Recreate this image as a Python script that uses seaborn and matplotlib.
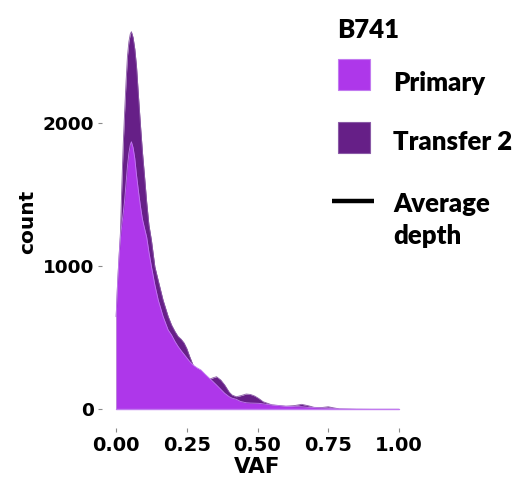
import numpy as np
import pandas as pd
import seaborn as sns
import matplotlib
matplotlib.use("Agg")
import matplotlib.pyplot as plt
from matplotlib.patches import Rectangle
from matplotlib.lines import Line2D

# ---- data ----
vaf = [0.000, 0.005, 0.010, 0.015, 0.020, 0.025, 0.030, 0.035, 0.040, 0.045,
       0.050, 0.054, 0.060, 0.066, 0.072, 0.079, 0.086, 0.093, 0.100, 0.108,
       0.116, 0.125, 0.137, 0.149, 0.166, 0.184, 0.196, 0.208, 0.219, 0.230,
       0.240, 0.250, 0.260, 0.272, 0.285, 0.300, 0.315, 0.330, 0.342, 0.355,
       0.370, 0.384, 0.400, 0.410, 0.425, 0.440, 0.460, 0.475, 0.490, 0.505,
       0.520, 0.550, 0.600, 0.630, 0.656, 0.680, 0.700, 0.725, 0.750, 0.770,
       0.790, 0.850, 0.900, 1.000]
primary = [648, 880, 1060, 1200, 1290, 1370, 1460, 1580, 1700, 1790,
           1850, 1871, 1830, 1755, 1640, 1525, 1420, 1330, 1270, 1205,
           1100, 997, 870, 764, 650, 555, 520, 475, 440, 410,
           385, 360, 335, 310, 292, 275, 245, 217, 195, 170,
           140, 112, 88, 78, 70, 55, 46, 44, 43, 42,
           38, 30, 21, 19, 18, 14, 12, 9, 7, 4,
           2, 0.5, 0, 0]
transfer2 = [648, 880, 1060, 1230, 1560, 1850, 2080, 2290, 2470, 2570,
             2625, 2641, 2600, 2520, 2400, 2190, 1988, 1800, 1640, 1450,
             1289, 1180, 997, 900, 764, 650, 590, 545, 510, 490,
             465, 425, 370, 310, 270, 240, 215, 210, 220, 228,
             205, 170, 120, 100, 88, 95, 107, 104, 93, 75,
             53, 32, 22, 26, 35, 25, 14, 12, 18, 10,
             3, 0.5, 0, 0]
series_names = ["Primary", "Transfer 2"]
legend_title = "B741"
legend_line_label = "Average\ndepth"
x_ticks = [0.0, 0.25, 0.5, 0.75, 1.0]
y_ticks = [0, 1000, 2000]

colors = {"Primary": "#AE37EA", "Transfer 2": "#661F87"}
edges = {"Primary": "#C27BF0", "Transfer 2": "#8A5AA6"}

n = len(vaf)
df = pd.DataFrame({
    "VAF": vaf + vaf,
    "count": primary + transfer2,
    "sample": ["Primary"] * n + ["Transfer 2"] * n,
})

sns.set_theme(style="white")
plt.rcParams["font.family"] = ["DejaVu Sans"]

W, H = 522, 480
fig = plt.figure(figsize=(W / 100, H / 100), dpi=100)
ax = fig.add_axes([102 / W, 1 - 428.2 / H, 311 / W, 415.4 / H])

# Transfer 2 behind, Primary on top
for z, name in [(1, "Transfer 2"), (3, "Primary")]:
    sub = df[df["sample"] == name]
    ax.fill_between(sub["VAF"], sub["count"], 0, color=colors[name],
                    linewidth=0, zorder=z)
    sns.lineplot(data=sub, x="VAF", y="count", color=edges[name],
                 linewidth=0.6, ax=ax, zorder=z + 0.5, legend=False,
                 estimator=None, sort=False)
ax.plot([0, 1], [0, 0], color=edges["Primary"], lw=1.0, zorder=4)

ax.set_xlim(-0.05, 1.05)
ax.set_ylim(-132, 2773)
ax.set_xticks(x_ticks)
ax.set_xticklabels([f"{t:.2f}" for t in x_ticks])
ax.set_yticks(y_ticks)
ax.set_yticklabels([str(t) for t in y_ticks])
sns.despine(ax=ax, left=True, bottom=True)
ax.tick_params(axis="both", bottom=True, left=True, length=3, width=0.8,
               color="#8a8a8a", pad=2.5)
for lab in ax.get_xticklabels():
    lab.set_fontsize(14)
    lab.set_fontweight("bold")
    lab.set_color("black")
for lab in ax.get_yticklabels():
    lab.set_fontsize(13.3)
    lab.set_fontweight("bold")
    lab.set_color("black")
ax.grid(False)

ax.set_xlabel("VAF", fontsize=15.5, fontweight="bold", color="black")
ax.set_ylabel("count", fontsize=14.5, fontweight="bold", color="black")
ax.xaxis.set_label_coords(0.5, (428.2 - 457) / 415.4)
ax.yaxis.set_label_coords((37 - 102) / 311, (428.2 - 222) / 415.4)

# ---- legend (drawn in figure pixel coordinates) ----
def fx(x):
    return x / W

def fy(y):
    return 1 - y / H

lfont = dict(family=["Lato", "DejaVu Sans"], fontweight="heavy",
             fontsize=18.5, color="black", va="baseline", ha="left")
fig.text(fx(337), fy(38), legend_title, **lfont)
patch_tops = [59, 122]
baselines = [91, 150]
for name, top, base in zip(series_names, patch_tops, baselines):
    fig.add_artist(Rectangle((fx(337.5), fy(top + 31)), 32.5 / W, 31 / H,
                             transform=fig.transFigure,
                             facecolor=colors[name], edgecolor=edges[name],
                             linewidth=0.8))
    fig.text(fx(393), fy(base), name, **lfont)
fig.add_artist(Line2D([fx(332), fx(374)], [fy(201), fy(201)],
                      transform=fig.transFigure, color="black", lw=3.2,
                      solid_capstyle="butt"))
line1, line2 = legend_line_label.split("\n")
fig.text(fx(393), fy(211.5), line1, **lfont)
fig.text(fx(393), fy(243.5), line2, **lfont)

fig.savefig("out.png", dpi=100, facecolor="white")
